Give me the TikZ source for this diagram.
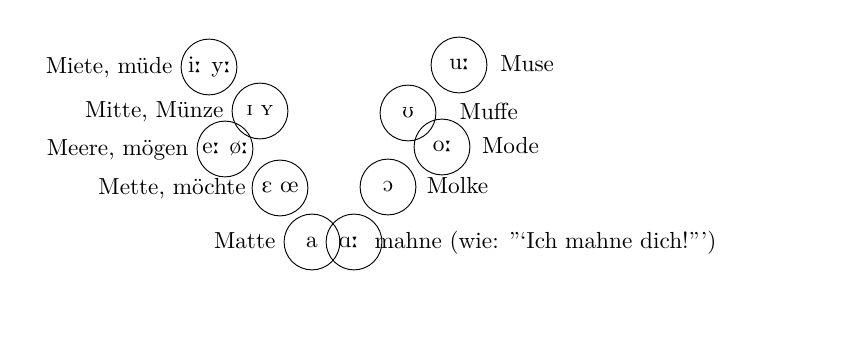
\documentclass[tikz,border=0pt]{standalone}
\usepackage{tipa}
\usetikzlibrary{positioning}
\tikzset{vowel/.style={circle, draw, minimum size=24pt, inner sep=0pt},
  word/.style={text height=1.5ex, text depth=0.25ex}}

\begin{document}
\begin{tikzpicture}[x=0.43pt, y=-0.43pt]
  \useasboundingbox (0,0) rectangle (860,338);
  % front vowels
  \node[vowel] (iy) at (209,67) {\textipa{i: y:}};
  \node[vowel] (IY) at (260,111) {\textipa{I Y}};
  \node[vowel] (eo) at (225,149) {\textipa{e: \o:}};
  \node[vowel] (Eoe) at (280,188) {\textipa{E \oe}};
  % open vowels
  \node[vowel] (a) at (312,242) {a};
  \node[vowel] (A) at (354,242) {\textipa{A:}\kern5pt};
  % back vowels
  \node[vowel] (u) at (459,65) {\textipa{u:}};
  \node[vowel] (U) at (408,113) {\textipa{U}};
  \node[vowel] (o) at (442,147) {\textipa{o:}};
  \node[vowel] (O) at (388,187) {\textipa{O}};
  % example words
  \node[word, left=0pt of iy] (wiy) {Miete, müde};
  \node[word, left=0pt of IY] (wIY) {Mitte, Münze};
  \node[word, left=0pt of eo] (weo) {Meere, mögen};
  \node[word, left=-1pt of Eoe] (wEoe) {Mette, möchte};
  \node[word, left=0pt of a] (wa) {Matte};
  \node[word, right=2pt of u] (wu) {Muse};
  \node[word, right=6.5pt of U] (wU) {Muffe};
  \node[word, right=1.5pt of o] (wo) {Mode};
  \node[word, right=1pt of O] (wO) {Molke};
  \node[word, anchor=west, inner xsep=0pt] (wA) at ([xshift=-3.5pt]A.east)
    {mahne (wie: ”‘Ich mahne dich!”’)};
\end{tikzpicture}
\end{document}
